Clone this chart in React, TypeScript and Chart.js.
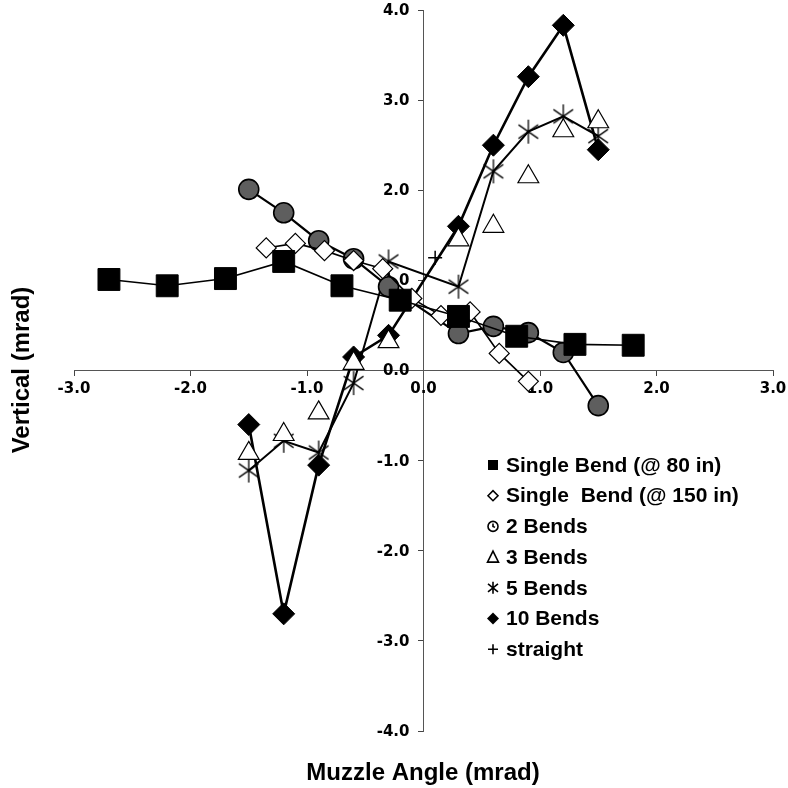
import React, { useEffect, useRef } from 'react';
import { Chart, registerables } from 'chart.js';

Chart.register(...registerables);

// ---- data (mrad) ----
const sb80X = [-2.7, -2.2, -1.7, -1.2, -0.7, -0.2, 0.3, 0.8, 1.3, 1.8];
const sb80Y = [1.01, 0.94, 1.02, 1.21, 0.94, 0.78, 0.6, 0.38, 0.29, 0.28];

const sb150X = [-1.35, -1.1, -0.85, -0.6, -0.35, -0.1, 0.15, 0.4, 0.65, 0.9];
const sb150Y = [1.36, 1.41, 1.33, 1.22, 1.13, 0.8, 0.61, 0.65, 0.19, -0.12];

const bendX = [-1.5, -1.2, -0.9, -0.6, -0.3, 0.3, 0.6, 0.9, 1.2, 1.5];
const bend2Y = [2.01, 1.75, 1.44, 1.24, 0.93, 0.41, 0.49, 0.42, 0.2, -0.39];
const bend3Y = [-0.92, -0.71, -0.47, 0.08, 0.32, 1.45, 1.6, 2.15, 2.66, 2.76];
const bend5Y = [-1.11, -0.78, -0.91, -0.14, 1.21, 0.93, 2.21, 2.65, 2.82, 2.6];
const bend10Y = [-0.6, -2.7, -1.05, 0.15, 0.39, 1.6, 2.5, 3.26, 3.83, 2.45];

const straightX = [0.1];
const straightY = [1.25];

const seriesNames = [
  'Single Bend (@ 80 in)',
  'Single  Bend (@ 150 in)',
  '2 Bends',
  '3 Bends',
  '5 Bends',
  '10 Bends',
  'straight',
];

const xTicks = [-3, -2, -1, 0, 1, 2, 3];
const yTicks = [-4, -3, -2, -1, 0, 1, 2, 3, 4];

const xTitle = 'Muzzle Angle (mrad)';
const yTitle = 'Vertical (mrad)';

const pts = (xs: number[], ys: number[]) => xs.map((x, i) => ({ x, y: ys[i] }));

function makeAsterisk(size: number, lw: number) {
  const c = document.createElement('canvas');
  c.width = size;
  c.height = size;
  const ctx = c.getContext('2d')!;
  const r = size / 2 - 1;
  const cx = size / 2;
  ctx.strokeStyle = '#000';
  ctx.lineWidth = lw;
  ctx.beginPath();
  ctx.moveTo(cx, cx - r);
  ctx.lineTo(cx, cx + r);
  const a = (35 * Math.PI) / 180;
  ctx.moveTo(cx - r * Math.cos(a), cx - r * Math.sin(a));
  ctx.lineTo(cx + r * Math.cos(a), cx + r * Math.sin(a));
  ctx.moveTo(cx - r * Math.cos(a), cx + r * Math.sin(a));
  ctx.lineTo(cx + r * Math.cos(a), cx - r * Math.sin(a));
  ctx.stroke();
  return c;
}

function drawLegendMarker(ctx: CanvasRenderingContext2D, kind: number, x: number, y: number) {
  ctx.save();
  ctx.strokeStyle = '#000';
  ctx.fillStyle = '#000';
  ctx.lineWidth = 1.6;
  ctx.beginPath();
  switch (kind) {
    case 0:
      ctx.fillRect(x - 5, y - 5, 10, 10);
      break;
    case 1:
      ctx.moveTo(x - 5, y);
      ctx.lineTo(x, y - 5);
      ctx.lineTo(x + 5, y);
      ctx.lineTo(x, y + 5);
      ctx.closePath();
      ctx.stroke();
      break;
    case 2:
      ctx.arc(x, y, 5, 0, Math.PI * 2);
      ctx.stroke();
      ctx.beginPath();
      ctx.moveTo(x, y - 3);
      ctx.lineTo(x, y);
      ctx.lineTo(x + 2, y + 1);
      ctx.stroke();
      break;
    case 3:
      ctx.moveTo(x, y - 6);
      ctx.lineTo(x + 5.5, y + 5);
      ctx.lineTo(x - 5.5, y + 5);
      ctx.closePath();
      ctx.stroke();
      break;
    case 4:
      ctx.moveTo(x, y - 6);
      ctx.lineTo(x, y + 6);
      ctx.moveTo(x - 5, y - 4);
      ctx.lineTo(x + 5, y + 4);
      ctx.moveTo(x - 5, y + 4);
      ctx.lineTo(x + 5, y - 4);
      ctx.stroke();
      break;
    case 5:
      ctx.moveTo(x - 6, y);
      ctx.lineTo(x, y - 6);
      ctx.lineTo(x + 6, y);
      ctx.lineTo(x, y + 6);
      ctx.closePath();
      ctx.fill();
      break;
    case 6:
      ctx.moveTo(x - 5, y);
      ctx.lineTo(x + 5, y);
      ctx.moveTo(x, y - 5);
      ctx.lineTo(x, y + 5);
      ctx.stroke();
      break;
  }
  ctx.restore();
}

const TICK_FONT = 'bold 15px "DejaVu Sans", sans-serif';

const decorPlugin = {
  id: 'decor',
  beforeDatasetsDraw(chart: any) {
    const ctx: CanvasRenderingContext2D = chart.ctx;
    const xs = chart.scales.x;
    const ys = chart.scales.y;
    const x0 = xs.getPixelForValue(0);
    const y0 = ys.getPixelForValue(0);
    ctx.save();
    ctx.fillStyle = '#000';
    ctx.font = TICK_FONT;
    ctx.textAlign = 'center';
    ctx.textBaseline = 'middle';
    xTicks.forEach((v) => {
      ctx.fillText(v.toFixed(1), xs.getPixelForValue(v), y0 + 19);
    });
    ctx.textAlign = 'right';
    yTicks.forEach((v) => {
      ctx.fillText(v.toFixed(1), x0 - 14, ys.getPixelForValue(v) + 1);
    });
    ctx.restore();
  },
  afterDraw(chart: any) {
    const ctx: CanvasRenderingContext2D = chart.ctx;
    ctx.save();
    ctx.fillStyle = '#000';
    ctx.font = 'bold 24px "Liberation Sans", Arial, sans-serif';
    ctx.textAlign = 'center';
    ctx.textBaseline = 'middle';
    ctx.fillText(xTitle, 423, 773);
    ctx.save();
    ctx.translate(22, 370);
    ctx.rotate(-Math.PI / 2);
    ctx.fillText(yTitle, 0, 0);
    ctx.restore();

    ctx.font = 'bold 21px "Liberation Sans", Arial, sans-serif';
    ctx.textAlign = 'left';
    seriesNames.forEach((name, i) => {
      const y = 465 + i * 30.7;
      drawLegendMarker(ctx, i, 493, y);
      ctx.fillStyle = '#000';
      ctx.fillText(name, 506, y + 1);
    });
    ctx.restore();
  },
};

export default function App() {
  const ref = useRef<HTMLCanvasElement>(null);

  useEffect(() => {
    if (!ref.current) return;
    const star = makeAsterisk(26, 1.3);
    const chart = new Chart(ref.current, {
      type: 'scatter',
      data: {
        datasets: [
          {
            label: seriesNames[0],
            data: pts(sb80X, sb80Y),
            showLine: true,
            borderColor: '#000',
            backgroundColor: '#000',
            borderWidth: 1.6,
            pointStyle: 'rect',
            pointRadius: 15.5,
            pointBorderWidth: 1,
          },
          {
            label: seriesNames[1],
            data: pts(sb150X, sb150Y),
            showLine: true,
            borderColor: '#000',
            backgroundColor: '#fff',
            borderWidth: 1.6,
            pointStyle: 'rectRot',
            pointRadius: 10,
            pointBorderWidth: 1.2,
          },
          {
            label: seriesNames[2],
            data: pts(bendX, bend2Y),
            showLine: true,
            borderColor: '#000',
            backgroundColor: '#5e5e5e',
            borderWidth: 2.2,
            pointStyle: 'circle',
            pointRadius: 10,
            pointBorderWidth: 1.6,
          },
          {
            label: seriesNames[3],
            data: pts(bendX, bend3Y),
            showLine: false,
            borderColor: '#000',
            backgroundColor: '#fff',
            pointStyle: 'triangle',
            pointRadius: 12,
            pointBorderWidth: 1.2,
          },
          {
            label: seriesNames[4],
            data: pts(bendX, bend5Y),
            showLine: true,
            borderColor: '#000',
            backgroundColor: '#000',
            borderWidth: 2,
            pointStyle: star as any,
            pointRadius: 13,
          },
          {
            label: seriesNames[5],
            data: pts(bendX, bend10Y),
            showLine: true,
            borderColor: '#000',
            backgroundColor: '#000',
            borderWidth: 2.6,
            pointStyle: 'rectRot',
            pointRadius: 11,
            pointBorderWidth: 1,
          },
          {
            label: seriesNames[6],
            data: pts(straightX, straightY),
            showLine: false,
            borderColor: '#000',
            backgroundColor: '#000',
            pointStyle: 'cross',
            pointRadius: 7,
            pointBorderWidth: 1.5,
          },
        ],
      },
      options: {
        animation: false,
        responsive: false,
        maintainAspectRatio: false,
        layout: { autoPadding: false, padding: { left: 74, right: 15, top: 10, bottom: 57 } },
        plugins: {
          legend: { display: false },
          tooltip: { enabled: false },
          title: { display: false },
        },
        scales: {
          x: {
            type: 'linear',
            min: -3,
            max: 3,
            position: { y: 0 } as any,
            afterBuildTicks: (s: any) => {
              s.ticks = xTicks.map((v) => ({ value: v }));
            },
            ticks: { display: false },
            grid: { display: true, drawOnChartArea: false, drawTicks: true, tickLength: 5, color: '#444' },
            border: { display: true, color: '#555', dash: [6, 3, 1, 3], width: 1 },
          },
          y: {
            type: 'linear',
            min: -4,
            max: 4,
            position: { x: 0 } as any,
            afterBuildTicks: (s: any) => {
              s.ticks = yTicks.map((v) => ({ value: v }));
            },
            ticks: { display: false },
            grid: { display: true, drawOnChartArea: false, drawTicks: true, tickLength: 5, color: '#444' },
            border: { display: true, color: '#555', dash: [6, 3, 1, 3], width: 1 },
          },
        },
      },
      plugins: [decorPlugin],
    });
    return () => chart.destroy();
  }, []);

  return (
    <div style={{ position: 'absolute', left: 0, top: 0, width: 788, height: 788, background: '#fff' }}>
      <canvas ref={ref} width={788} height={788} style={{ width: 788, height: 788, display: 'block' }} />
    </div>
  );
}
